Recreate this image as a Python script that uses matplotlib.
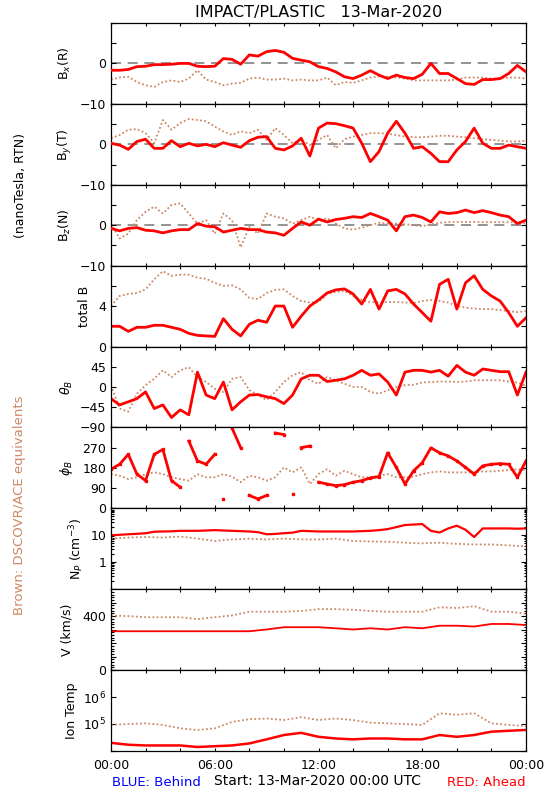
import numpy as np
import matplotlib
matplotlib.use("Agg")
import matplotlib.pyplot as plt
from matplotlib.ticker import FixedLocator, FixedFormatter, MultipleLocator, LogLocator, NullLocator

RED = "#ff0000"
BROWN = "#cc8866"
DOTS = (0, (1, 1.3))

# time grids (hours from 13-Mar-2020 00:00 UTC)
t_half = np.arange(0, 24.5, 0.5)
t_hour = np.arange(0, 25, 1.0)

# magnetic field, RTN (nT), half-hour readings; red = STEREO-A, brown = DSCOVR/ACE
bx_red = [-1.7, -1.7, -1.5, -0.8, -0.7, -0.3, -0.3, -0.2, 0.0, 0.0, -0.7, -0.8, -0.7,
          1.2, 1.0, -0.2, 2.1, 1.8, 2.9, 3.2, 2.75, 1.25, 0.8, 0.4, -0.8,
          -1.25, -2.1, -3.3, -3.75, -2.9, -1.8, -2.9, -3.75, -2.9, -3.5, -3.75, -2.7,
          0.0, -2.5, -2.5, -3.75, -5.0, -5.2, -4.0, -4.0, -3.75, -2.5, -0.5, -2.1]
bx_brown = [-4.0, -3.5, -3.3, -4.6, -5.4, -5.8, -4.6, -4.2, -4.6, -3.75, -1.7, -4.0, -4.6,
            -5.4, -5.0, -4.8, -3.75, -3.5, -4.0, -4.0, -3.75, -4.2, -4.0, -4.2, -4.2,
            -3.5, -5.4, -4.6, -4.8, -4.2, -3.5, -3.2, -3.3, -3.5, -3.75, -4.2, -4.2,
            -4.2, -4.2, -4.2, -4.0, -3.5, -3.5, -3.5, -3.75, -3.75, -3.5, -3.5, -3.75]
by_red = [0.25, -0.2, -1.25, 0.7, 1.25, -1.0, -1.0, 0.9, -0.6, 0.25, -0.4, 0.0, -0.6,
          0.4, -0.2, -0.75, 0.9, 1.75, 1.9, -1.0, -1.4, -0.4, 1.5, -2.9, 4.0,
          5.25, 5.1, 4.6, 4.0, 0.25, -4.3, -1.8, 2.75, 5.7, 2.75, -1.0, -0.6,
          -2.25, -4.3, -4.3, -1.4, 0.7, 4.0, 0.25, -1.0, -1.0, -0.2, -0.6, -1.0]
by_brown = [1.5, 2.3, 3.6, 3.75, 2.75, 0.25, 6.0, 3.6, 5.25, 6.25, 6.0, 5.7, 4.4,
            3.2, 2.3, 3.2, 2.75, 3.6, 1.1, 4.0, 2.3, 0.25, 1.1, -0.2, 1.1,
            2.3, -1.0, 1.25, 1.9, 2.3, 2.75, 2.75, 2.6, 2.3, 1.9, 1.75, 1.75,
            1.9, 2.1, 2.1, 1.9, 1.75, 1.5, 1.25, 1.1, 0.9, 0.7, 0.7, 0.9]
bz_red = [-0.8, -1.4, -0.8, -0.6, -1.25, -1.4, -1.9, -1.4, -1.1, -1.1, 0.4, -0.25, -0.4,
          -1.7, -1.25, -0.8, -1.1, -1.1, -1.7, -1.9, -2.5, -0.8, 0.8, 0.0, 1.5,
          0.8, 1.4, 1.7, 2.1, 1.9, 2.9, 2.1, 1.25, -1.4, 2.1, 2.5, 1.9,
          0.8, 3.3, 2.9, 3.1, 3.75, 3.1, 3.6, 3.1, 2.5, 2.1, 0.4, 1.25]
bz_brown = [0.4, -3.3, -2.1, 1.25, 3.3, 4.6, 2.9, 5.0, 5.4, 2.9, 0.4, 1.25, -2.1,
            2.9, 1.25, -5.5, -0.4, -2.1, 2.9, 2.1, 1.7, 0.4, 1.25, 2.1, 1.25,
            1.7, 0.4, -0.8, -1.1, -0.6, 0.0, 0.6, 0.4, 0.4, 0.25, 0.0, -0.25,
            0.25, 0.6, 0.75, 0.8, 0.8, 0.8, 0.75, 0.75, 0.75, 0.75, 0.6, 0.4]
bt_red = [2.0, 2.0, 1.5, 1.9, 1.9, 2.1, 2.1, 1.9, 1.7, 1.3, 1.1, 1.05, 1.0,
          2.75, 1.7, 1.05, 2.2, 2.6, 2.4, 4.0, 4.0, 1.9, 3.0, 4.0, 4.6,
          5.3, 5.6, 5.7, 5.2, 4.2, 5.65, 3.7, 5.5, 5.65, 5.2, 4.2, 3.35,
          2.5, 6.15, 6.65, 3.7, 6.3, 7.0, 5.65, 5.0, 4.5, 3.35, 2.0, 2.85]
bt_brown = [4.0, 5.0, 5.2, 5.3, 5.65, 6.65, 7.45, 7.0, 7.1, 7.1, 6.8, 6.7, 6.3,
            6.0, 6.05, 5.65, 4.8, 4.7, 5.3, 5.6, 5.65, 5.0, 4.5, 4.35, 4.4,
            5.2, 5.4, 5.5, 5.0, 4.6, 4.4, 4.35, 4.4, 4.4, 4.35, 4.3, 4.5,
            4.6, 4.5, 4.35, 4.0, 3.85, 3.75, 3.7, 3.7, 3.6, 3.5, 3.4, 3.5]
theta_red = [-26, -40, -33, -26, -11, -48, -40, -68, -51, -62, 33, -18, -26,
             11, -51, -33, -18, -17, -22, -26, -37, -18, 18, 26, 26,
             12, 15, 18, 26, 37, 26, 29, 11, -18, 33, 37, 37,
             33, 37, 24, 48, 33, 26, 40, 37, 34, 34, -18, 33]
theta_brown = [4, -48, -55, -15, 4, 18, 37, 22, 37, 44, 22, 11, -4,
               -11, 18, 22, -7, -18, -29, -11, 11, 26, 33, 15, 7,
               22, 15, 7, 0, 0, -11, -15, -7, 0, 4, 5, 10,
               11, 12, 12, 11, 12, 15, 15, 15, 15, 12, 10, 2]
phi_red = [174, 196, 240, 152, 123, 240, 262, 123, 94, 299, 211, 196, 240,
           42, 357, 270, 57, 42, 57, 335, 328, 64, 270, 277, 116,
           108, 101, 105, 116, 123, 135, 141, 247, 182, 108, 167, 203,
           269, 247, 233, 211, 182, 152, 189, 196, 199, 196, 138, 211]
phi_brown = [152, 145, 130, 138, 152, 160, 152, 138, 130, 123, 152, 138, 138,
             152, 141, 116, 145, 138, 123, 138, 182, 160, 182, 108, 152,
             174, 145, 167, 152, 138, 138, 145, 152, 138, 138, 141, 152,
             160, 164, 160, 160, 160, 160, 164, 164, 167, 170, 174, 170]

# plasma
np_red = [10, 10.4, 10.9, 11.3, 11.9, 13.5, 13.8, 14.0, 14.6, 14.6, 14.6, 15.0, 15.5,
          15.0, 14.6, 14.2, 13.8, 13.0, 10.9, 11.2, 11.9, 12.5, 14.6, 14.2, 13.8,
          13.8, 13.8, 13.8, 13.8, 14.2, 14.6, 15.5, 16.9, 20, 24, 25, 26,
          14.6, 12.6, 17.9, 22.6, 16, 8.6, 17.9, 17.9, 17.9, 17.9, 17.5, 17.9]
np_brown = [7.5, 7.8, 8.2, 8.4, 8.6, 8.4, 8.2, 8.6, 8.9, 8.2, 7.5, 6.8, 6.1,
            6.6, 7.0, 7.2, 7.5, 7.2, 7.0, 7.2, 7.5, 7.2, 7.0, 7.0, 7.0,
            7.2, 7.5, 6.8, 6.1, 6.0, 5.9, 5.8, 5.75, 5.5, 5.3, 5.1, 5.0,
            5.2, 5.3, 5.0, 4.8, 4.7, 4.55, 4.55, 4.55, 4.4, 4.2, 4.0, 3.9]
v_red = [288, 288, 288, 288, 288, 288, 288, 288, 288, 301, 318, 318, 318,
         310, 301, 310, 301, 318, 310, 329, 329, 323, 342, 342, 334]
v_brown = [405, 400, 392, 392, 392, 378, 392, 405, 433, 433, 433, 438, 452,
           452, 447, 438, 433, 433, 433, 466, 460, 474, 433, 433, 419]
temp_red = [2.0e4, 1.7e4, 1.6e4, 1.6e4, 1.6e4, 1.4e4, 1.5e4, 1.6e4, 1.9e4, 2.7e4, 3.9e4,
            4.7e4, 3.35e4, 2.9e4, 2.7e4, 2.9e4, 2.9e4, 2.7e4, 2.7e4, 3.9e4, 3.35e4,
            3.9e4, 5.2e4, 5.6e4, 6.0e4]
temp_brown = [9.2e4, 1.0e5, 1.06e5, 9.2e4, 6.9e4, 6.0e4, 6.9e4, 1.2e5, 1.5e5, 1.6e5, 1.4e5,
              1.8e5, 1.4e5, 1.6e5, 1.4e5, 1.12e5, 1.06e5, 1.0e5, 9.2e4, 2.5e5, 2.2e5,
              2.5e5, 1.06e5, 9.2e4, 8.4e4]

hour_labels = ["00:00", "06:00", "12:00", "18:00", "00:00"]


def segments(t, y, jump):
    # break the curve where the angle wraps round
    t = np.asarray(t, float)
    y = np.asarray(y, float)
    cut = np.where(np.abs(np.diff(y)) > jump)[0] + 1
    return zip(np.split(t, cut), np.split(y, cut))


def style(ax, ticks, labels, ylabel, xlab):
    ax.set_xlim(0, 24)
    ax.xaxis.set_major_locator(FixedLocator(np.arange(0, 25, 2)))
    ax.xaxis.set_minor_locator(NullLocator())
    ax.yaxis.set_major_locator(FixedLocator(ticks))
    ax.yaxis.set_major_formatter(FixedFormatter(labels))
    ax.tick_params(which="both", direction="in", top=True, right=True,
                   labelsize=9, width=0.8)
    ax.tick_params(axis="x", which="major", length=2.5, pad=6)
    ax.tick_params(axis="y", which="major", length=3.5, pad=3.5)
    ax.tick_params(axis="y", which="minor", length=1.8)
    ax.set_ylabel(ylabel, fontsize=9, va="center")
    ax.yaxis.set_label_coords(xlab, 0.5)
    if ax is not axes[-1]:
        ax.tick_params(axis="x", labelbottom=False)
    for s in ax.spines.values():
        s.set_linewidth(0.9)


fig, axes = plt.subplots(9, 1, figsize=(5.5, 8), dpi=100, sharex=True)
fig.subplots_adjust(left=0.2018, right=0.9564, top=0.9713, bottom=0.0613, hspace=0)

b_labels = [r"B$_x$(R)", r"B$_y$(T)", r"B$_z$(N)"]
for ax, r, b, lab in zip(axes[:3], [bx_red, by_red, bz_red], [bx_brown, by_brown, bz_brown], b_labels):
    ax.axhline(0, color="#808080", lw=1.2, ls=(0, (6, 4)), zorder=1)
    ax.plot(t_half, b, color=BROWN, lw=1.3, ls=DOTS, zorder=2)
    ax.plot(t_half, r, color=RED, lw=2.0, zorder=3)
    ax.set_ylim(-10, 10)
    style(ax, [-10, -5, 0, 5, 10], ["\u221210", "", "0", "", ""], lab, -0.11)

ax = axes[3]
ax.plot(t_half, bt_brown, color=BROWN, lw=1.3, ls=DOTS)
ax.plot(t_half, bt_red, color=RED, lw=2.0)
ax.set_ylim(0, 8)
style(ax, [0, 2, 4, 6, 8], ["0", "", "4", "", ""], "total B", -0.063)

ax = axes[4]
ax.plot(t_half, theta_brown, color=BROWN, lw=1.3, ls=DOTS)
ax.plot(t_half, theta_red, color=RED, lw=2.0)
ax.set_ylim(-90, 90)
style(ax, [-90, -45, 0, 45, 90], ["\u221290", "\u221245", "0", "45", ""], r"$\theta_B$", -0.105)

ax = axes[5]
ax.plot(t_half, phi_brown, color=BROWN, lw=1.3, ls=DOTS)
for ts, ys in segments(t_half, phi_red, 150):
    ax.plot(ts, ys, color=RED, lw=2.0, marker="s", ms=1.8)
ax.set_ylim(0, 360)
style(ax, [0, 90, 180, 270, 360], ["0", "90", "180", "270", ""], r"$\phi_B$", -0.106)

ax = axes[6]
ax.set_yscale("log")
ax.plot(t_half, np_brown, color=BROWN, lw=1.3, ls=DOTS)
ax.plot(t_half, np_red, color=RED, lw=1.6)
ax.set_ylim(0.1, 100)
ax.yaxis.set_minor_locator(LogLocator(base=10, subs=np.arange(2, 10)))
style(ax, [0.1, 1, 10, 100], ["", "1", "10", ""], r"N$_P$ (cm$^{-3}$)", -0.082)

ax = axes[7]
ax.plot(t_hour, v_brown, color=BROWN, lw=1.3, ls=DOTS)
ax.plot(t_hour, v_red, color=RED, lw=1.3)
ax.set_ylim(0, 600)
ax.yaxis.set_minor_locator(MultipleLocator(20))
style(ax, list(range(0, 700, 100)), ["0", "", "", "", "400", "", ""], "V (km/s)", -0.105)

ax = axes[8]
ax.set_yscale("log")
ax.plot(t_hour, temp_brown, color=BROWN, lw=1.3, ls=DOTS)
ax.plot(t_hour, temp_red, color=RED, lw=1.8)
ax.set_ylim(1e4, 1e7)
ax.yaxis.set_minor_locator(NullLocator())
style(ax, [1e4, 1e5, 1e6, 1e7], ["", r"10$^5$", r"10$^6$", ""], "Ion Temp", -0.096)
ax.xaxis.set_major_formatter(FixedFormatter(
    [hour_labels[i // 3] if i % 3 == 0 else "" for i in range(13)]))

fig.text(0.5791, 1 - 12 / 800, "IMPACT/PLASTIC   13-Mar-2020", ha="center", va="center", fontsize=11.5)
fig.text(21 / 550, 1 - 185 / 800, "(nanoTesla, RTN)", rotation=90, ha="center", va="center", fontsize=9)
fig.text(20 / 550, 1 - 505 / 800, "Brown: DSCOVR/ACE equivalents", rotation=90,
         ha="center", va="center", fontsize=9.5, color=BROWN)
fig.text(112 / 550, 1 - 783 / 800, "BLUE: Behind", ha="left", va="center", fontsize=9.5, color="#0000ff")
fig.text(214 / 550, 1 - 781 / 800, "Start: 13-Mar-2020 00:00 UTC", ha="left", va="center", fontsize=10)
fig.text(526 / 550, 1 - 783 / 800, "RED: Ahead", ha="right", va="center", fontsize=9.5, color=RED)

fig.savefig("out.png", dpi=100)
